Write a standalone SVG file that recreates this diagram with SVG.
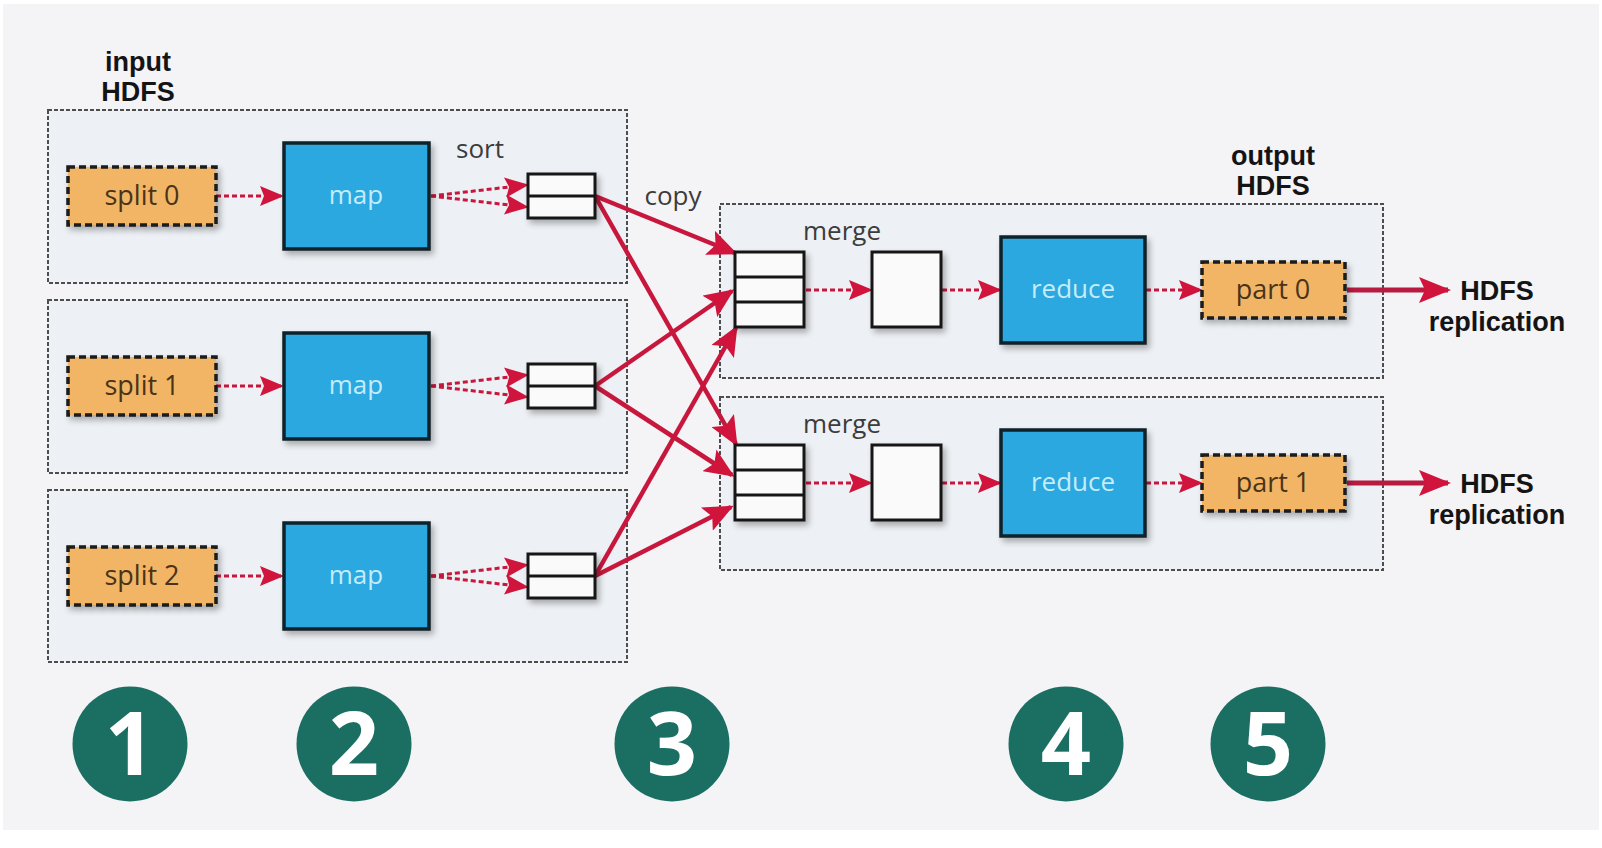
<svg xmlns="http://www.w3.org/2000/svg" width="1602" height="848" viewBox="0 0 1602 848">
<style>
.bg{fill:#f4f3f6}
.cont{fill:#edf0f4;stroke:#4d4d4d;stroke-width:2;stroke-dasharray:4 2}
.split{fill:#f1b565;stroke:#1a1a1a;stroke-width:3.5;stroke-dasharray:7 4}
.blue{fill:#29a8df;stroke:#10202a;stroke-width:3.5}
.buf{fill:#fafafa;stroke:#151515;stroke-width:3}
.div{stroke:#151515;stroke-width:3}
.dash{stroke:#c8173d;stroke-width:3;stroke-dasharray:5 3;fill:none}
.solid{stroke:#c8173d;stroke-width:4.5;fill:none}
.thick{stroke:#b81a40;stroke-width:5;fill:none}
.t{font-family:"Open Sans","DejaVu Sans",sans-serif;text-anchor:middle}
.lbl{font-size:26px;fill:#3c3c3c}
.bold{font-family:"Liberation Sans",Arial,sans-serif;font-size:27px;font-weight:bold;fill:#141414}
.stxt{font-size:27px;fill:#4a3318}
.btxt{font-size:26px;fill:#c4ecfa}
.num{fill:#1a6e62}
.ntxt{font-size:88px;font-weight:bold;fill:#ffffff}
</style>
<defs>
<filter id="sh" x="-20%" y="-20%" width="150%" height="150%">
<feGaussianBlur in="SourceAlpha" stdDeviation="3"/>
<feOffset dx="3" dy="4" result="b"/>
<feComponentTransfer><feFuncA type="linear" slope="0.3"/></feComponentTransfer>
<feMerge><feMergeNode/><feMergeNode in="SourceGraphic"/></feMerge>
</filter>
<marker id="ad" viewBox="0 0 24 20" refX="21" refY="10" markerWidth="24" markerHeight="20" markerUnits="userSpaceOnUse" orient="auto"><path d="M0,0 L24,10 L0,20 L4,10 z" fill="#d0143c"/></marker>
<marker id="ac" viewBox="0 0 30 26" refX="27" refY="13" markerWidth="30" markerHeight="26" markerUnits="userSpaceOnUse" orient="auto"><path d="M0,0 L30,13 L0,26 L6,13 z" fill="#d0143c"/></marker>
<marker id="ah" viewBox="0 0 32 26" refX="29" refY="13" markerWidth="32" markerHeight="26" markerUnits="userSpaceOnUse" orient="auto"><path d="M0,0 L32,13 L0,26 L6,13 z" fill="#d0143c"/></marker>
</defs>
<rect x="0" y="0" width="1602" height="848" fill="#ffffff"/>
<rect class="bg" x="3" y="4" width="1596" height="826"/>

<g id="containers">
<rect class="cont" x="48" y="110" width="579" height="173"/>
<rect class="cont" x="48" y="300" width="579" height="173"/>
<rect class="cont" x="48" y="490" width="579" height="172"/>
<rect class="cont" x="720" y="204" width="663" height="174"/>
<rect class="cont" x="720" y="397" width="663" height="173"/>
</g>

<g id="labels">
<text class="t bold" x="138" y="71">input</text>
<text class="t bold" x="138" y="101">HDFS</text>
<text class="t bold" x="1273" y="165">output</text>
<text class="t bold" x="1273" y="195">HDFS</text>
<text class="t lbl" x="480" y="158">sort</text>
<text class="t lbl" x="673" y="205">copy</text>
<text class="t lbl" x="842" y="240">merge</text>
<text class="t lbl" x="842" y="433">merge</text>
</g>

<g id="connectors">
<line class="dash" x1="216" y1="196" x2="281" y2="196" marker-end="url(#ad)"/>
<line class="dash" x1="216" y1="386" x2="281" y2="386" marker-end="url(#ad)"/>
<line class="dash" x1="216" y1="576" x2="281" y2="576" marker-end="url(#ad)"/>
<path class="dash" d="M431,196 L526,185" marker-end="url(#ad)"/>
<path class="dash" d="M431,196 L526,207" marker-end="url(#ad)"/>
<path class="dash" d="M431,386 L526,375" marker-end="url(#ad)"/>
<path class="dash" d="M431,386 L526,397" marker-end="url(#ad)"/>
<path class="dash" d="M431,576 L526,565" marker-end="url(#ad)"/>
<path class="dash" d="M431,576 L526,587" marker-end="url(#ad)"/>
<path class="solid" d="M595,196 L735,253" marker-end="url(#ac)"/>
<path class="solid" d="M595,196 L736,444" marker-end="url(#ac)"/>
<path class="solid" d="M595,386 L732,291" marker-end="url(#ac)"/>
<path class="solid" d="M595,386 L732,475" marker-end="url(#ac)"/>
<path class="solid" d="M595,576 L736,328" marker-end="url(#ac)"/>
<path class="solid" d="M595,576 L731,507" marker-end="url(#ac)"/>
<line class="dash" x1="806" y1="290" x2="870" y2="290" marker-end="url(#ad)"/>
<line class="dash" x1="942" y1="290" x2="999" y2="290" marker-end="url(#ad)"/>
<line class="dash" x1="1146" y1="290" x2="1200" y2="290" marker-end="url(#ad)"/>
<line class="dash" x1="806" y1="483" x2="870" y2="483" marker-end="url(#ad)"/>
<line class="dash" x1="942" y1="483" x2="999" y2="483" marker-end="url(#ad)"/>
<line class="dash" x1="1146" y1="483" x2="1200" y2="483" marker-end="url(#ad)"/>
<line class="thick" x1="1347" y1="290" x2="1448" y2="290" marker-end="url(#ah)"/>
<line class="thick" x1="1347" y1="483" x2="1448" y2="483" marker-end="url(#ah)"/>
</g>

<g id="split0"><rect class="split" x="68" y="167" width="148" height="58" filter="url(#sh)"/><text class="t stxt" x="142" y="205">split 0</text></g>
<g id="split1"><rect class="split" x="68" y="357" width="148" height="58" filter="url(#sh)"/><text class="t stxt" x="142" y="395">split 1</text></g>
<g id="split2"><rect class="split" x="68" y="547" width="148" height="58" filter="url(#sh)"/><text class="t stxt" x="142" y="585">split 2</text></g>

<g id="map0"><rect class="blue" x="284" y="143" width="145" height="106" filter="url(#sh)"/><text class="t btxt" x="356" y="204">map</text></g>
<g id="map1"><rect class="blue" x="284" y="333" width="145" height="106" filter="url(#sh)"/><text class="t btxt" x="356" y="394">map</text></g>
<g id="map2"><rect class="blue" x="284" y="523" width="145" height="106" filter="url(#sh)"/><text class="t btxt" x="356" y="584">map</text></g>

<g id="sort0"><rect class="buf" x="528" y="174" width="67" height="44" filter="url(#sh)"/><line class="div" x1="528" y1="196" x2="595" y2="196"/></g>
<g id="sort1"><rect class="buf" x="528" y="364" width="67" height="44" filter="url(#sh)"/><line class="div" x1="528" y1="386" x2="595" y2="386"/></g>
<g id="sort2"><rect class="buf" x="528" y="554" width="67" height="44" filter="url(#sh)"/><line class="div" x1="528" y1="576" x2="595" y2="576"/></g>

<g id="merge0"><rect class="buf" x="735" y="252" width="69" height="75" filter="url(#sh)"/><line class="div" x1="735" y1="277" x2="804" y2="277"/><line class="div" x1="735" y1="302" x2="804" y2="302"/></g>
<g id="merge1"><rect class="buf" x="735" y="445" width="69" height="75" filter="url(#sh)"/><line class="div" x1="735" y1="470" x2="804" y2="470"/><line class="div" x1="735" y1="495" x2="804" y2="495"/></g>

<g id="sorted0"><rect class="buf" x="872" y="252" width="69" height="75" filter="url(#sh)"/></g>
<g id="sorted1"><rect class="buf" x="872" y="445" width="69" height="75" filter="url(#sh)"/></g>

<g id="reduce0"><rect class="blue" x="1001" y="237" width="144" height="106" filter="url(#sh)"/><text class="t btxt" x="1073" y="298">reduce</text></g>
<g id="reduce1"><rect class="blue" x="1001" y="430" width="144" height="106" filter="url(#sh)"/><text class="t btxt" x="1073" y="491">reduce</text></g>

<g id="part0"><rect class="split" x="1202" y="262" width="143" height="56" filter="url(#sh)"/><text class="t stxt" x="1273" y="299">part 0</text></g>
<g id="part1"><rect class="split" x="1202" y="455" width="143" height="56" filter="url(#sh)"/><text class="t stxt" x="1273" y="492">part 1</text></g>

<g id="hdfs0"><text class="t bold" x="1497" y="300">HDFS</text><text class="t bold" x="1497" y="331">replication</text></g>
<g id="hdfs1"><text class="t bold" x="1497" y="493">HDFS</text><text class="t bold" x="1497" y="524">replication</text></g>

<g id="step1"><circle class="num" cx="130" cy="744" r="57.5"/><text class="t ntxt" x="130" y="775">1</text></g>
<g id="step2"><circle class="num" cx="354" cy="744" r="57.5"/><text class="t ntxt" x="354" y="775">2</text></g>
<g id="step3"><circle class="num" cx="672" cy="744" r="57.5"/><text class="t ntxt" x="672" y="775">3</text></g>
<g id="step4"><circle class="num" cx="1066" cy="744" r="57.5"/><text class="t ntxt" x="1066" y="775">4</text></g>
<g id="step5"><circle class="num" cx="1268" cy="744" r="57.5"/><text class="t ntxt" x="1268" y="775">5</text></g>
</svg>
